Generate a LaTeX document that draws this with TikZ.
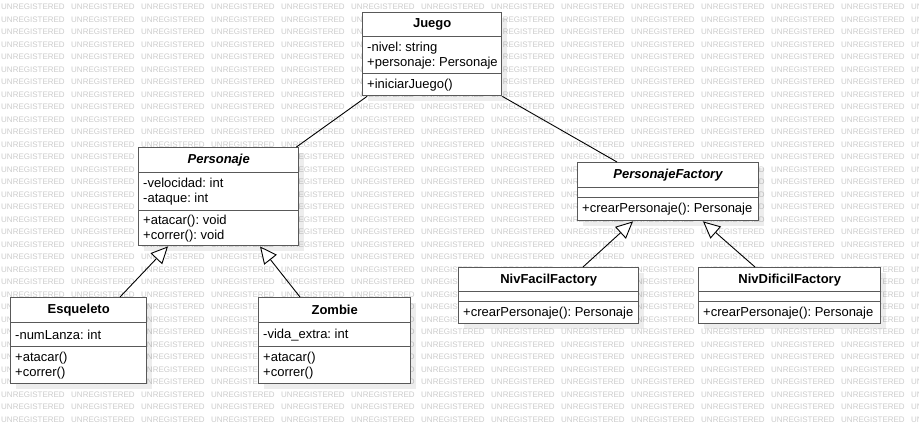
\documentclass[tikz,border=0pt]{standalone}
\usepackage{fontspec}
\setmainfont{Liberation Sans}
\usetikzlibrary{arrows.meta,calc}
\frenchspacing
\begin{document}
\begin{tikzpicture}[x=1pt,y=-1pt,
  sec/.style={draw=black!65, line width=1.4pt, fill=white, inner sep=0pt, anchor=north west, font=\fontsize{13}{15}\selectfont\frenchspacing},
  ttl/.style={sec, align=center},
  lbl/.style={inner sep=0pt, anchor=west, align=left, font=\fontsize{13}{15}\selectfont\frenchspacing},
  shad/.style={fill=black, fill opacity=0.07, draw=none},
  wm/.style={font=\fontsize{8}{8}\selectfont, text=black!20, inner sep=0pt, anchor=west},
  gen/.style={draw=black, line width=0.9pt, -{Triangle[length=17pt,width=16pt,fill=white,line width=0.9pt]}},
  assoc/.style={draw=black, line width=0.9pt}]
\useasboundingbox[fill=white] (0,0) rectangle (919,424);
\clip (0,0) rectangle (919,424);
% watermark (cells fully hidden by a class box are left out)
\foreach \r in {0,...,33}{
  \foreach \c in {0,...,13}{
    \pgfmathsetmacro\wx{\c*70+1}
    \pgfmathsetmacro\wy{7+\r*12.5}
    \gdef\hidewm{0}
    \foreach \ax/\ay/\bx/\by in {362/12/501/95, 138/147/298/245, 577/162/758/220, 10/297/146/383, 258/297/410/383, 458/267/638/323, 698/267/880/323}{
      \pgfmathparse{(\wx>=\ax && \wx+64<=\bx && \wy-4>=\ay && \wy+4<=\by) ? 1 : 0}
      \ifnum\pgfmathresult=1 \gdef\hidewm{1}\fi
    }
    \ifnum\hidewm=0
      \node[wm] (wm-\r-\c) at (\wx,\wy) {UNREGISTERED};
    \fi
  }
}
% shadows
\fill[shad] (368,18) rectangle (507,101);
\fill[shad] (144,153) rectangle (304,251);
\fill[shad] (583,168) rectangle (764,226);
\fill[shad] (16,303) rectangle (152,389);
\fill[shad] (264,303) rectangle (416,389);
\fill[shad] (464,273) rectangle (644,329);
\fill[shad] (704,273) rectangle (886,329);
% Juego
\node[ttl, minimum width=139pt, minimum height=24pt] (juego-t) at (362,12) {\textbf{Juego}};
\node[sec, minimum width=139pt, minimum height=37pt] (juego-a) at (362,36) {};
\node[sec, minimum width=139pt, minimum height=22pt] (juego-m) at (362,73) {};
\node[lbl] (juego-at) at ([xshift=5pt]juego-a.west) {-nivel: string\\+personaje: Personaje};
\node[lbl] (juego-mt) at ([xshift=5pt]juego-m.west) {+iniciarJuego()};
% Personaje
\node[ttl, minimum width=160pt, minimum height=25pt] (pers-t) at (138,147) {\textbf{\textit{Personaje}}};
\node[sec, minimum width=160pt, minimum height=38pt] (pers-a) at (138,172) {};
\node[sec, minimum width=160pt, minimum height=35pt] (pers-m) at (138,210) {};
\node[lbl] (pers-at) at ([xshift=5pt]pers-a.west) {-velocidad: int\\-ataque: int};
\node[lbl] (pers-mt) at ([xshift=5pt]pers-m.west) {+atacar(): void\\+correr(): void};
% PersonajeFactory
\node[ttl, minimum width=181pt, minimum height=25pt] (pf-t) at (577,162) {\textbf{\textit{PersonajeFactory}}};
\node[sec, minimum width=181pt, minimum height=10pt] (pf-e) at (577,187) {};
\node[sec, minimum width=181pt, minimum height=23pt] (pf-m) at (577,197) {};
\node[lbl] (pf-mt) at ([xshift=5pt]pf-m.west) {+crearPersonaje(): Personaje};
% Esqueleto
\node[ttl, minimum width=136pt, minimum height=25pt] (esq-t) at (10,297) {\textbf{Esqueleto}};
\node[sec, minimum width=136pt, minimum height=24pt] (esq-a) at (10,322) {};
\node[sec, minimum width=136pt, minimum height=37pt] (esq-m) at (10,346) {};
\node[lbl] (esq-at) at ([xshift=5pt]esq-a.west) {-numLanza: int};
\node[lbl] (esq-mt) at ([xshift=5pt]esq-m.west) {+atacar()\\+correr()};
% Zombie
\node[ttl, minimum width=152pt, minimum height=25pt] (zom-t) at (258,297) {\textbf{Zombie}};
\node[sec, minimum width=152pt, minimum height=24pt] (zom-a) at (258,322) {};
\node[sec, minimum width=152pt, minimum height=37pt] (zom-m) at (258,346) {};
\node[lbl] (zom-at) at ([xshift=5pt]zom-a.west) {-vida\_extra: int};
\node[lbl] (zom-mt) at ([xshift=5pt]zom-m.west) {+atacar()\\+correr()};
% NivFacilFactory
\node[ttl, minimum width=180pt, minimum height=24pt] (nf-t) at (458,267) {\textbf{NivFacilFactory}};
\node[sec, minimum width=180pt, minimum height=10pt] (nf-e) at (458,291) {};
\node[sec, minimum width=180pt, minimum height=22pt] (nf-m) at (458,301) {};
\node[lbl] (nf-mt) at ([xshift=5pt]nf-m.west) {+crearPersonaje(): Personaje};
% NivDificilFactory
\node[ttl, minimum width=182pt, minimum height=24pt] (nd-t) at (698,267) {\textbf{NivDificilFactory}};
\node[sec, minimum width=182pt, minimum height=10pt] (nd-e) at (698,291) {};
\node[sec, minimum width=182pt, minimum height=22pt] (nd-m) at (698,301) {};
\node[lbl] (nd-mt) at ([xshift=5pt]nd-m.west) {+crearPersonaje(): Personaje};
% connectors
\draw[assoc] ([xshift=5pt]juego-m.south west) -- ([xshift=-3pt]pers-t.north east);
\draw[assoc] (juego-m.south east) -- ([xshift=40pt]pf-t.north west);
\draw[gen] ([xshift=110pt]esq-t.north west) -- ([xshift=30pt]pers-m.south west);
\draw[gen] ([xshift=42pt]zom-t.north west) -- ([xshift=122pt]pers-m.south west);
\draw[gen] ([xshift=125pt]nf-t.north west) -- ([xshift=56pt]pf-m.south west);
\draw[gen] ([xshift=57pt]nd-t.north west) -- ([xshift=126pt]pf-m.south west);
\end{tikzpicture}
\end{document}
